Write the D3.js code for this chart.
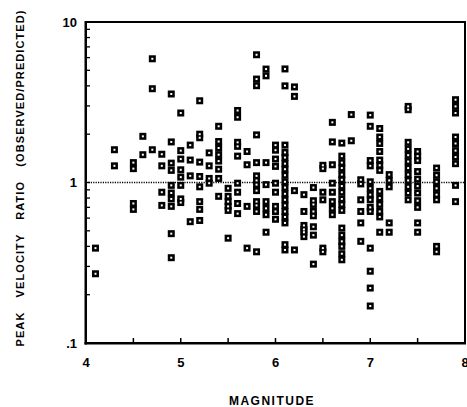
<!DOCTYPE html>
<html>
<head>
<meta charset="utf-8">
<script src="https://cdn.jsdelivr.net/npm/d3@7"></script>
<style>
  body { margin: 0; background: #fff; }
  .lbl { font-family: "Liberation Sans", Arial, sans-serif; font-weight: bold; fill: #000; }
</style>
</head>
<body>
<div id="chart"></div>
<script>
// Peak velocity ratio vs magnitude, one column of points per magnitude

const magnitudes = [4.1, 4.3, 4.5, 4.6, 4.7, 4.8, 4.9, 5.0, 5.1, 5.2, 5.3, 5.4, 5.5, 5.6, 5.7,
  5.8, 5.9, 6.0, 6.1, 6.2, 6.3, 6.4, 6.5, 6.6, 6.7, 6.8, 6.9, 7.0, 7.1, 7.2, 7.4, 7.5, 7.7, 7.9];

// Observed/predicted ratios, one list for each magnitude above
const ratios = [
  [0.39, 0.27],
  [1.6, 1.27],
  [1.33, 1.22, 0.74, 0.68],
  [1.94, 1.49],
  [5.9, 3.84, 1.6],
  [1.5, 1.27, 0.87, 0.72],
  [3.56, 1.79, 1.32, 1.19, 0.96, 0.86, 0.79, 0.71, 0.48, 0.34],
  [2.71, 1.58, 1.4, 1.2, 1.08, 0.96, 0.79, 0.75],
  [1.71, 1.38, 1.1, 0.57],
  [3.23, 2.0, 1.9, 1.34, 1.09, 0.94, 0.76, 0.68, 0.58],
  [1.53, 1.27, 1.06, 0.99],
  [2.24, 1.8, 1.64, 1.49, 1.36, 1.21, 1.06, 0.82],
  [0.92, 0.82, 0.76, 0.71, 0.67, 0.45],
  [2.81, 2.55, 1.78, 1.68, 1.46, 0.99, 0.87, 0.74, 0.64],
  [1.56, 1.29, 0.71, 0.39],
  [6.25, 4.41, 4.01, 1.98, 1.33, 1.1, 1.03, 0.97, 0.89, 0.76, 0.72, 0.66, 0.37],
  [5.09, 4.62, 1.33, 0.97, 0.76, 0.69, 0.63, 0.49],
  [1.71, 1.59, 1.4, 1.26, 0.99, 0.87, 0.71, 0.66, 0.59],
  [5.1, 4.0, 1.71, 1.54, 1.43, 1.31, 1.21, 1.11, 1.01, 0.93, 0.85, 0.78, 0.72, 0.66, 0.61, 0.56, 0.41, 0.38],
  [3.94, 3.44, 0.89, 0.38],
  [0.84, 0.66, 0.54, 0.51, 0.49, 0.46],
  [0.93, 0.77, 0.73, 0.66, 0.62, 0.53, 0.47, 0.31],
  [1.28, 1.22, 0.87, 0.78, 0.39, 0.37],
  [2.37, 1.79, 1.29, 0.99, 0.87, 0.76, 0.69, 0.63],
  [1.76, 1.46, 1.33, 1.23, 1.12, 1.04, 0.95, 0.87, 0.79, 0.73, 0.67, 0.52, 0.47, 0.43, 0.4, 0.36, 0.33],
  [2.65, 1.82],
  [1.04, 0.98, 0.78, 0.66, 0.56, 0.43],
  [2.63, 2.24, 1.37, 1.27, 1.01, 0.92, 0.84, 0.78, 0.7, 0.66, 0.39, 0.28, 0.22, 0.17],
  [2.17, 1.92, 1.75, 1.56, 1.38, 1.28, 1.19, 0.88, 0.8, 0.73, 0.66, 0.61, 0.49],
  [1.12, 1.03, 0.94, 0.56, 0.49],
  [2.98, 2.84, 1.78, 1.62, 1.48, 1.35, 1.23, 1.12, 1.03, 0.94, 0.86, 0.78],
  [1.56, 1.46, 1.37, 1.17, 1.05, 0.95, 0.86, 0.77, 0.7, 0.56, 0.49],
  [1.23, 1.11, 1.01, 0.92, 0.84, 0.78, 0.4, 0.37],
  [3.28, 2.98, 2.71, 1.92, 1.75, 1.58, 1.44, 1.31, 0.96, 0.76]
];

const xTickValues = [4, 5, 6, 7, 8];
const xMinorValues = [4.5, 5.5, 6.5, 7.5];
const yTickValues = [0.1, 1, 10];
const yTickLabels = ['.1', '1', '10'];

const margin = { top: 22, right: 2, bottom: 64, left: 86 };
const plotWidth = 467 - margin.left - margin.right;
const plotHeight = 407 - margin.top - margin.bottom;

const points = [];
magnitudes.forEach((m, i) => {
  ratios[i].forEach(r => points.push({ m: m, r: r }));
});

const root = d3.select('#chart')
  .append('svg')
  .attr('width', 467)
  .attr('height', 407);

const xScale = d3.scaleLinear().domain([4, 8]).range([margin.left, margin.left + plotWidth]);
const yScale = d3.scaleLog().domain([0.1, 10]).range([margin.top + plotHeight, margin.top]);

const plotLeft = margin.left;
const plotRight = margin.left + plotWidth;
const plotTop = margin.top;
const plotBottom = margin.top + plotHeight;

// Reference line at ratio 1
root.append('line')
  .attr('x1', plotLeft)
  .attr('x2', plotRight)
  .attr('y1', yScale(1))
  .attr('y2', yScale(1))
  .attr('stroke', '#000')
  .attr('stroke-width', 1.4)
  .attr('stroke-dasharray', '1.2,1.2');

// Square markers with a small white centre
const size = 7;
root.selectAll('.pt')
  .data(points)
  .enter()
  .append('rect')
  .attr('class', 'pt')
  .attr('x', d => xScale(d.m) - size / 2)
  .attr('y', d => yScale(d.r) - size / 2)
  .attr('width', size)
  .attr('height', size)
  .attr('fill', '#000');

root.selectAll('.pt-dot')
  .data(points)
  .enter()
  .append('rect')
  .attr('class', 'pt-dot')
  .attr('x', d => xScale(d.m) - 1)
  .attr('y', d => yScale(d.r) - 1)
  .attr('width', 2)
  .attr('height', 2)
  .attr('fill', '#fff');

// Inward ticks: half magnitudes on the bottom, log minors on the left
root.selectAll('.xtick')
  .data(xTickValues.concat(xMinorValues).filter(v => v > 4 && v < 8))
  .enter()
  .append('rect')
  .attr('class', 'xtick')
  .attr('x', d => xScale(d) - 0.75)
  .attr('y', plotBottom - 5)
  .attr('width', 1.5)
  .attr('height', 5)
  .attr('fill', '#000');

root.selectAll('.ytick')
  .data(yScale.ticks().filter(v => v > 0.1 && v < 10))
  .enter()
  .append('rect')
  .attr('class', 'ytick')
  .attr('x', plotLeft)
  .attr('y', d => yScale(d) - 0.65)
  .attr('width', 4)
  .attr('height', 1.3)
  .attr('fill', '#000');

// Frame as filled bars, heavier on the left and bottom
const frameBars = [
  { x: plotLeft - 1, y: plotTop - 1, w: plotWidth + 2, h: 2 },
  { x: plotRight - 1, y: plotTop - 1, w: 2, h: plotHeight + 2 },
  { x: plotLeft - 1.5, y: plotTop - 1, w: 2.5, h: plotHeight + 2.5 },
  { x: plotLeft - 1.5, y: plotBottom - 1, w: plotWidth + 2.5, h: 2.5 }
];
root.selectAll('.frame')
  .data(frameBars)
  .enter()
  .append('rect')
  .attr('class', 'frame')
  .attr('x', d => d.x)
  .attr('y', d => d.y)
  .attr('width', d => d.w)
  .attr('height', d => d.h)
  .attr('fill', '#000');

// Tick labels
root.selectAll('.xlabel')
  .data(xTickValues)
  .enter()
  .append('text')
  .attr('class', 'lbl')
  .attr('x', d => xScale(d))
  .attr('y', plotBottom + 24)
  .attr('text-anchor', 'middle')
  .style('font-size', '13px')
  .text(d => d);

root.selectAll('.ylabel')
  .data(yTickValues)
  .enter()
  .append('text')
  .attr('class', 'lbl')
  .attr('x', plotLeft - 9)
  .attr('y', d => yScale(d))
  .attr('dy', '0.35em')
  .attr('text-anchor', 'end')
  .style('font-size', '13px')
  .text((d, i) => yTickLabels[i]);

// Axis titles
root.append('text')
  .attr('class', 'lbl')
  .attr('x', 272)
  .attr('y', plotBottom + 62)
  .attr('text-anchor', 'middle')
  .style('font-size', '12px')
  .style('letter-spacing', '1.5px')
  .text('MAGNITUDE');

root.append('text')
  .attr('class', 'lbl')
  .attr('transform', `translate(20, ${plotTop + plotHeight / 2 - 4}) rotate(-90)`)
  .attr('text-anchor', 'middle')
  .attr('dy', '0.35em')
  .attr('textLength', 336)
  .attr('lengthAdjust', 'spacing')
  .style('font-size', '11px')
  .style('word-spacing', '10px')
  .text('PEAK VELOCITY RATIO (OBSERVED/PREDICTED)');
</script>
</body>
</html>
